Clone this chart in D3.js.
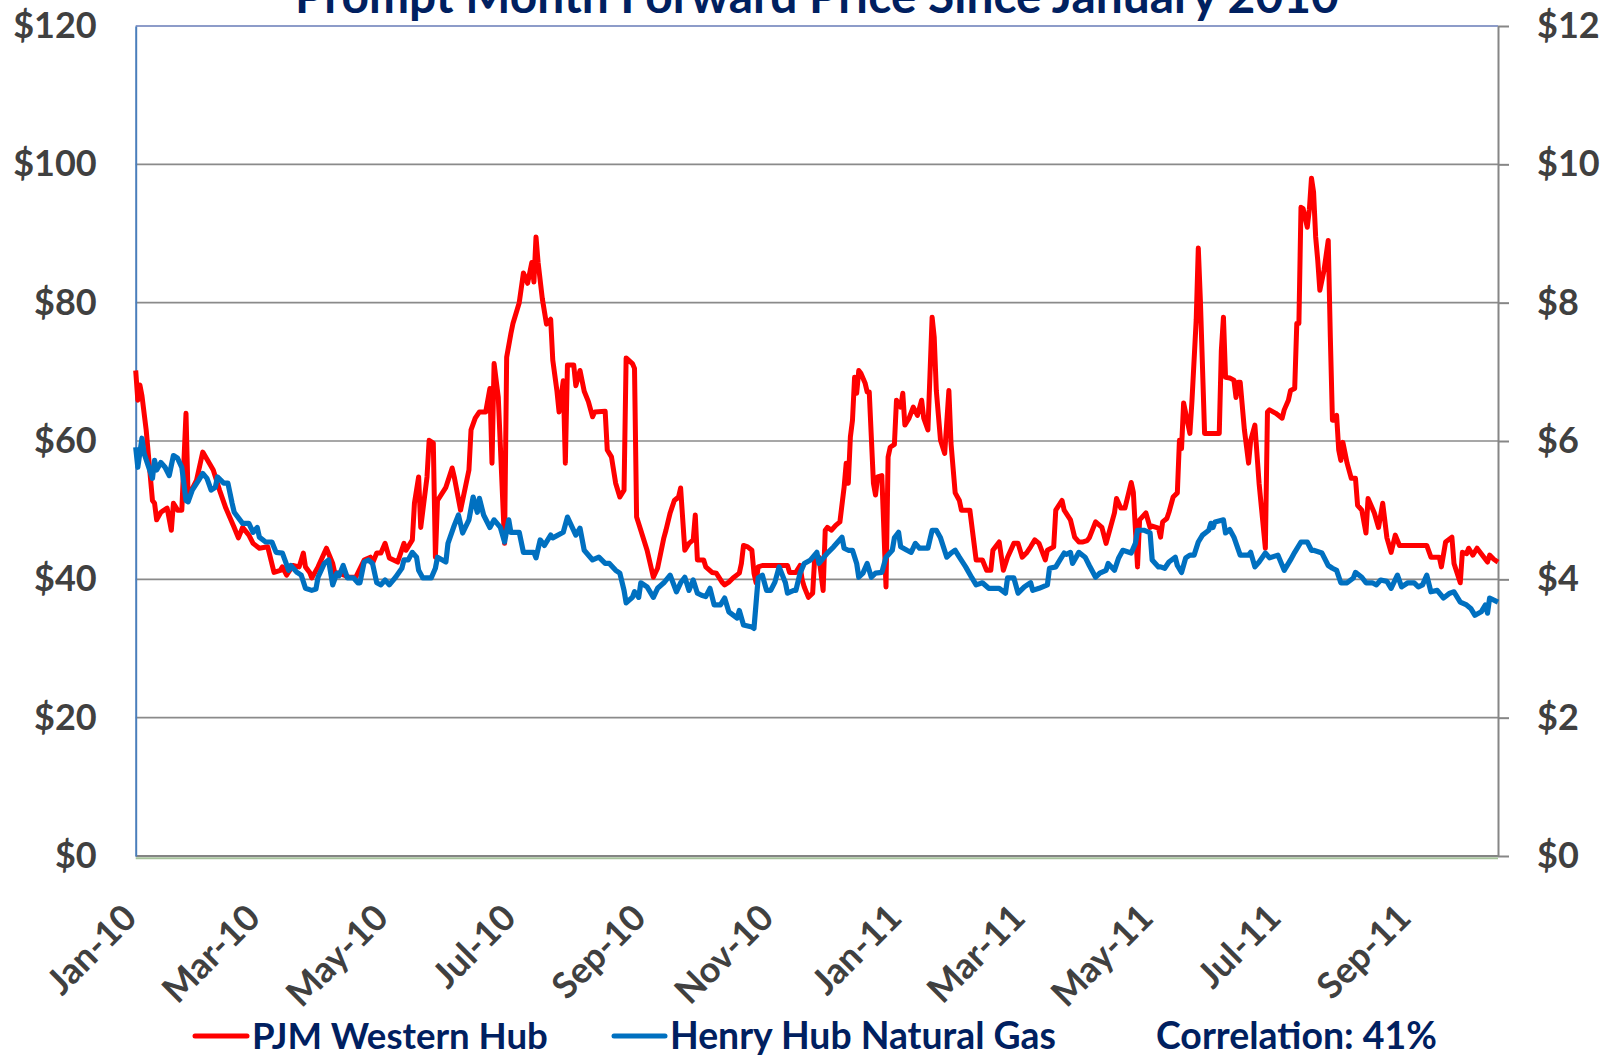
<!DOCTYPE html>
<html>
<head>
<meta charset="utf-8">
<script src="https://cdn.jsdelivr.net/npm/d3@7"></script>
<style>
  body { margin: 0; background: #fff; }
  svg text { font-family: Lato, "Open Sans", sans-serif; font-weight: bold; }
</style>
</head>
<body>
<svg></svg>
<script>
// PJM Western Hub prompt month ($/MWh), left axis
let pjmDates = ["2010-01-01","2010-01-02","2010-01-03","2010-01-04","2010-01-06","2010-01-09","2010-01-10","2010-01-11","2010-01-13","2010-01-16",
  "2010-01-18","2010-01-19","2010-01-21","2010-01-23","2010-01-25","2010-01-26","2010-01-30","2010-02-02","2010-02-07","2010-02-10",
  "2010-02-13","2010-02-17","2010-02-19","2010-02-21","2010-02-24","2010-02-26","2010-03-01","2010-03-05","2010-03-08","2010-03-11",
  "2010-03-12","2010-03-14","2010-03-17","2010-03-20","2010-03-22","2010-03-23","2010-03-25","2010-03-26","2010-03-29","2010-04-02",
  "2010-04-05","2010-04-06","2010-04-08","2010-04-13","2010-04-16","2010-04-20","2010-04-23","2010-04-24","2010-04-26","2010-04-28",
  "2010-04-30","2010-05-02","2010-05-06","2010-05-09","2010-05-10","2010-05-13","2010-05-14","2010-05-16","2010-05-17","2010-05-20",
  "2010-05-21","2010-05-23","2010-05-24","2010-05-25","2010-05-29","2010-06-01","2010-06-02","2010-06-05","2010-06-09","2010-06-10",
  "2010-06-12","2010-06-14","2010-06-17","2010-06-19","2010-06-20","2010-06-21","2010-06-23","2010-06-26","2010-06-27","2010-06-29",
  "2010-06-30","2010-07-03","2010-07-05","2010-07-07","2010-07-09","2010-07-10","2010-07-11","2010-07-12","2010-07-14","2010-07-16",
  "2010-07-18","2010-07-19","2010-07-21","2010-07-22","2010-07-24","2010-07-25","2010-07-26","2010-07-29","2010-07-30","2010-08-01",
  "2010-08-03","2010-08-05","2010-08-07","2010-08-08","2010-08-13","2010-08-14","2010-08-16","2010-08-18","2010-08-20","2010-08-22",
  "2010-08-23","2010-08-26","2010-08-27","2010-08-28","2010-08-30","2010-09-02","2010-09-05","2010-09-07","2010-09-10","2010-09-11",
  "2010-09-13","2010-09-15","2010-09-17","2010-09-18","2010-09-20","2010-09-22","2010-09-24","2010-09-25","2010-09-26","2010-09-29",
  "2010-09-30","2010-10-03","2010-10-05","2010-10-08","2010-10-09","2010-10-11","2010-10-13","2010-10-16","2010-10-17","2010-10-18",
  "2010-10-20","2010-10-22","2010-10-23","2010-10-24","2010-10-25","2010-10-27","2010-11-01","2010-11-05","2010-11-08","2010-11-09",
  "2010-11-12","2010-11-14","2010-11-15","2010-11-16","2010-11-18","2010-11-20","2010-11-21","2010-11-23","2010-11-25","2010-11-26",
  "2010-11-27","2010-11-29","2010-12-01","2010-12-03","2010-12-05","2010-12-06","2010-12-07","2010-12-08","2010-12-09","2010-12-10",
  "2010-12-11","2010-12-12","2010-12-13","2010-12-15","2010-12-16","2010-12-17","2010-12-19","2010-12-20","2010-12-21","2010-12-23",
  "2010-12-25","2010-12-26","2010-12-27","2010-12-29","2010-12-30","2011-01-01","2011-01-02","2011-01-03","2011-01-05","2011-01-07",
  "2011-01-09","2011-01-11","2011-01-12","2011-01-14","2011-01-16","2011-01-17","2011-01-18","2011-01-20","2011-01-22","2011-01-24",
  "2011-01-25","2011-01-27","2011-01-29","2011-01-30","2011-02-03","2011-02-05","2011-02-06","2011-02-09","2011-02-11","2011-02-13",
  "2011-02-14","2011-02-17","2011-02-19","2011-02-21","2011-02-24","2011-02-26","2011-02-28","2011-03-02","2011-03-04","2011-03-06",
  "2011-03-08","2011-03-11","2011-03-12","2011-03-15","2011-03-16","2011-03-19","2011-03-20","2011-03-23","2011-03-25","2011-03-27",
  "2011-03-29","2011-03-31","2011-04-01","2011-04-04","2011-04-07","2011-04-09","2011-04-13","2011-04-14","2011-04-16","2011-04-18",
  "2011-04-21","2011-04-22","2011-04-24","2011-04-25","2011-04-28","2011-04-30","2011-05-01","2011-05-04","2011-05-05","2011-05-06",
  "2011-05-08","2011-05-09","2011-05-11","2011-05-13","2011-05-14","2011-05-15","2011-05-16","2011-05-17","2011-05-19","2011-05-20",
  "2011-05-22","2011-05-23","2011-05-24","2011-05-25","2011-05-26","2011-05-29","2011-06-02","2011-06-03","2011-06-04","2011-06-05",
  "2011-06-07","2011-06-09","2011-06-10","2011-06-11","2011-06-12","2011-06-14","2011-06-16","2011-06-17","2011-06-19","2011-06-21",
  "2011-06-24","2011-06-25","2011-06-26","2011-06-29","2011-07-02","2011-07-03","2011-07-05","2011-07-06","2011-07-08","2011-07-09",
  "2011-07-10","2011-07-11","2011-07-12","2011-07-14","2011-07-15","2011-07-16","2011-07-17","2011-07-18","2011-07-19","2011-07-20",
  "2011-07-22","2011-07-24","2011-07-25","2011-07-26","2011-07-27","2011-07-28","2011-07-29","2011-07-30","2011-07-31","2011-08-02",
  "2011-08-04","2011-08-06","2011-08-07","2011-08-09","2011-08-11","2011-08-12","2011-08-15","2011-08-17","2011-08-19","2011-08-21",
  "2011-08-23","2011-08-25","2011-08-27","2011-09-05","2011-09-09","2011-09-11","2011-09-15","2011-09-16","2011-09-18","2011-09-21",
  "2011-09-22","2011-09-25","2011-09-26","2011-09-28","2011-09-29","2011-10-01","2011-10-03","2011-10-05","2011-10-08","2011-10-09",
  "2011-10-11","2011-10-13"];
let pjmPrices = [70.2,65.9,68.1,66.5,61.6,51.4,51.0,48.6,49.7,50.3,
  47.1,51.0,50.0,50.0,64.0,51.9,54.3,58.4,55.8,52.9,
  50.3,47.5,46.0,47.5,46.4,45.2,44.5,44.7,41.0,41.3,
  41.8,40.6,42.0,41.8,43.8,41.8,41.0,40.2,41.8,44.5,
  42.3,40.9,40.9,40.3,40.3,42.8,43.2,42.3,43.8,43.8,
  45.2,43.1,42.5,45.2,44.2,45.7,51.0,54.8,47.5,54.8,
  60.1,59.7,43.2,51.4,53.3,56.1,54.8,50.0,55.8,61.6,
  63.3,64.2,64.2,67.6,56.8,71.2,66.3,45.2,72.1,75.5,
  77.0,80.0,84.3,82.8,85.8,83.0,89.5,85.8,80.6,76.9,
  77.6,71.7,67.2,64.2,68.7,56.8,71.0,71.0,68.0,70.2,
  67.2,65.7,63.5,64.2,64.3,58.7,57.7,53.9,51.9,52.9,
  72.0,71.2,70.5,49.0,47.1,44.2,40.3,41.6,46.0,47.1,
  49.6,51.4,51.9,53.2,44.2,45.2,45.7,49.3,42.8,42.8,
  41.8,41.0,40.9,39.5,39.2,39.6,40.2,40.9,42.3,44.9,
  44.7,44.2,40.9,39.5,41.8,42.0,42.0,42.0,42.0,41.0,
  41.0,42.0,39.9,38.9,37.4,38.0,43.2,43.2,38.4,47.1,
  47.5,47.1,47.8,48.3,53.3,56.8,53.9,60.6,63.0,69.2,
  66.9,70.2,69.8,68.4,67.1,67.1,53.9,52.2,54.8,55.0,
  38.9,57.7,59.1,59.5,65.9,64.9,66.9,62.3,63.3,64.9,
  63.7,65.9,63.3,61.6,77.9,75.0,67.3,60.1,58.2,67.3,
  59.7,52.5,51.4,50.0,50.0,45.2,42.8,42.8,41.3,41.3,
  44.2,45.4,41.3,43.2,45.2,45.2,43.2,43.8,44.7,45.7,
  45.2,42.8,44.2,44.7,50.0,51.4,50.0,48.6,46.1,45.4,
  45.4,45.6,46.0,48.3,47.5,45.2,49.6,51.7,50.3,50.3,
  54.0,52.6,41.8,48.6,49.6,47.5,47.7,47.4,46.1,48.3,
  48.8,49.7,51.9,52.5,60.1,58.9,65.5,64.0,61.1,65.9,
  77.5,87.9,80.3,70.7,61.1,61.1,61.1,73.1,77.9,69.2,
  69.1,68.8,66.3,68.5,68.5,61.6,56.8,60.1,62.3,53.9,
  44.5,64.2,64.5,64.0,63.3,64.5,65.9,67.3,67.6,77.0,
  77.0,93.8,93.6,90.9,93.5,98.0,96.0,89.5,86.1,81.8,
  84.7,89.0,75.0,63.0,63.0,63.7,58.7,57.2,59.8,56.8,
  54.6,54.6,50.7,50.0,46.7,51.7,49.6,47.5,51.0,46.0,
  43.9,46.4,44.9,44.9,44.9,43.2,43.2,41.8,45.4,46.1,
  42.3,39.5,43.9,43.7,44.5,43.5,44.5,43.7,42.5,43.5,
  42.9,42.5];

// Henry Hub natural gas prompt month ($/MMBtu), right axis
let hhDates = ["2010-01-01","2010-01-02","2010-01-04","2010-01-05","2010-01-09","2010-01-10","2010-01-11","2010-01-13","2010-01-15","2010-01-17",
  "2010-01-19","2010-01-21","2010-01-23","2010-01-25","2010-01-26","2010-01-28","2010-01-31","2010-02-02","2010-02-04","2010-02-06",
  "2010-02-08","2010-02-09","2010-02-12","2010-02-14","2010-02-16","2010-02-17","2010-02-21","2010-02-24","2010-02-26","2010-02-28",
  "2010-03-01","2010-03-04","2010-03-07","2010-03-09","2010-03-12","2010-03-15","2010-03-16","2010-03-19","2010-03-21","2010-03-23",
  "2010-03-26","2010-03-28","2010-03-29","2010-04-01","2010-04-03","2010-04-05","2010-04-07","2010-04-08","2010-04-10","2010-04-12",
  "2010-04-15","2010-04-17","2010-04-18","2010-04-20","2010-04-22","2010-04-24","2010-04-26","2010-04-28","2010-04-30","2010-05-02",
  "2010-05-05","2010-05-08","2010-05-09","2010-05-11","2010-05-13","2010-05-15","2010-05-16","2010-05-18","2010-05-22","2010-05-24",
  "2010-05-25","2010-05-29","2010-05-30","2010-06-02","2010-06-04","2010-06-06","2010-06-09","2010-06-11","2010-06-13","2010-06-14",
  "2010-06-16","2010-06-19","2010-06-21","2010-06-24","2010-06-26","2010-06-28","2010-06-29","2010-07-03","2010-07-05","2010-07-10",
  "2010-07-11","2010-07-13","2010-07-15","2010-07-18","2010-07-19","2010-07-24","2010-07-26","2010-07-30","2010-08-01","2010-08-03",
  "2010-08-07","2010-08-10","2010-08-13","2010-08-15","2010-08-18","2010-08-20","2010-08-22","2010-08-23","2010-08-26","2010-08-27",
  "2010-08-29","2010-08-30","2010-09-02","2010-09-05","2010-09-07","2010-09-10","2010-09-13","2010-09-16","2010-09-18","2010-09-20",
  "2010-09-22","2010-09-24","2010-09-26","2010-09-28","2010-09-30","2010-10-02","2010-10-04","2010-10-07","2010-10-09","2010-10-11",
  "2010-10-15","2010-10-16","2010-10-18","2010-10-22","2010-10-23","2010-10-25","2010-10-27","2010-10-29","2010-10-31","2010-11-02",
  "2010-11-04","2010-11-07","2010-11-08","2010-11-11","2010-11-12","2010-11-14","2010-11-16","2010-11-19","2010-11-22","2010-11-23",
  "2010-11-27","2010-11-30","2010-12-02","2010-12-04","2010-12-05","2010-12-07","2010-12-09","2010-12-11","2010-12-12","2010-12-14",
  "2010-12-16","2010-12-18","2010-12-20","2010-12-23","2010-12-25","2010-12-28","2010-12-29","2010-12-31","2011-01-01","2011-01-04",
  "2011-01-06","2011-01-08","2011-01-10","2011-01-13","2011-01-14","2011-01-16","2011-01-18","2011-01-20","2011-01-23","2011-01-25",
  "2011-01-27","2011-01-29","2011-02-01","2011-02-04","2011-02-06","2011-02-09","2011-02-12","2011-02-17","2011-02-20","2011-02-21",
  "2011-02-24","2011-02-26","2011-03-01","2011-03-04","2011-03-05","2011-03-08","2011-03-12","2011-03-13","2011-03-16","2011-03-18",
  "2011-03-20","2011-03-21","2011-03-23","2011-03-24","2011-03-27","2011-03-30","2011-04-01","2011-04-04","2011-04-06","2011-04-09",
  "2011-04-10","2011-04-13","2011-04-15","2011-04-17","2011-04-21","2011-04-23","2011-04-24","2011-04-27","2011-04-30","2011-05-01",
  "2011-05-04","2011-05-05","2011-05-07","2011-05-09","2011-05-12","2011-05-13","2011-05-15","2011-05-17","2011-05-19","2011-05-21",
  "2011-05-23","2011-05-25","2011-05-28","2011-05-29","2011-05-30","2011-05-31","2011-06-04","2011-06-05","2011-06-07","2011-06-09",
  "2011-06-12","2011-06-14","2011-06-16","2011-06-17","2011-06-19","2011-06-21","2011-06-24","2011-06-26","2011-06-30","2011-07-03",
  "2011-07-06","2011-07-08","2011-07-11","2011-07-14","2011-07-16","2011-07-17","2011-07-21","2011-07-24","2011-07-26","2011-07-28",
  "2011-07-30","2011-08-02","2011-08-05","2011-08-06","2011-08-09","2011-08-11","2011-08-14","2011-08-16","2011-08-18","2011-08-21",
  "2011-08-23","2011-08-26","2011-08-28","2011-08-31","2011-09-03","2011-09-05","2011-09-07","2011-09-09","2011-09-11","2011-09-14",
  "2011-09-17","2011-09-20","2011-09-22","2011-09-25","2011-09-28","2011-09-30","2011-10-02","2011-10-05","2011-10-07","2011-10-08",
  "2011-10-09","2011-10-13"];
let hhPrices = [5.91,5.62,6.04,5.82,5.46,5.72,5.58,5.69,5.62,5.50,
  5.79,5.75,5.62,5.14,5.12,5.29,5.43,5.53,5.46,5.29,
  5.33,5.48,5.39,5.39,5.10,4.97,4.81,4.81,4.68,4.75,
  4.61,4.54,4.54,4.39,4.38,4.13,4.20,4.10,4.06,3.87,
  3.84,3.86,4.03,4.23,4.28,3.92,4.09,4.05,4.20,4.02,
  4.02,3.95,3.95,4.25,4.28,4.23,3.95,3.92,3.99,3.92,
  4.03,4.16,4.28,4.28,4.39,4.32,4.13,4.02,4.02,4.16,
  4.32,4.25,4.52,4.78,4.93,4.67,4.86,5.19,4.97,5.17,
  4.93,4.75,4.86,4.75,4.54,4.86,4.68,4.68,4.39,4.39,
  4.31,4.57,4.49,4.64,4.60,4.68,4.90,4.64,4.74,4.42,
  4.28,4.32,4.23,4.23,4.13,4.09,3.84,3.66,3.74,3.82,
  3.74,3.95,3.89,3.74,3.87,3.95,4.06,3.82,3.95,4.03,
  3.84,3.99,3.80,3.77,3.75,3.87,3.63,3.63,3.73,3.53,
  3.44,3.55,3.34,3.31,3.29,4.02,4.06,3.84,3.84,3.96,
  4.18,3.95,3.80,3.84,3.84,4.09,4.23,4.28,4.39,4.23,
  4.38,4.47,4.54,4.61,4.45,4.42,4.42,4.23,4.03,4.09,
  4.23,4.03,4.09,4.10,4.32,4.42,4.60,4.68,4.47,4.42,
  4.39,4.52,4.45,4.45,4.45,4.71,4.71,4.60,4.32,4.38,
  4.42,4.32,4.18,4.02,3.92,3.95,3.87,3.87,3.80,4.02,
  4.02,3.80,3.89,3.95,3.84,3.87,3.92,4.16,4.18,4.28,
  4.38,4.36,4.39,4.23,4.39,4.32,4.20,4.03,4.09,4.13,
  4.23,4.13,4.31,4.42,4.38,4.52,4.71,4.71,4.67,4.28,
  4.18,4.18,4.16,4.25,4.32,4.20,4.10,4.31,4.35,4.35,
  4.54,4.64,4.71,4.81,4.75,4.83,4.86,4.67,4.72,4.61,
  4.35,4.35,4.35,4.39,4.18,4.25,4.38,4.31,4.35,4.13,
  4.28,4.39,4.54,4.54,4.42,4.42,4.38,4.20,4.16,4.13,
  3.95,3.95,4.02,4.10,4.03,3.95,3.95,3.92,3.99,3.97,
  3.87,4.06,3.89,3.95,3.95,3.89,3.92,4.06,3.82,3.84,
  3.73,3.80,3.82,3.67,3.63,3.58,3.48,3.53,3.63,3.51,
  3.73,3.67];

let leftTicks = [0, 20, 40, 60, 80, 100, 120];
let rightTicks = [0, 2, 4, 6, 8, 10, 12];
let titleText = "Prompt Month Forward Price Since January 2010";
let seriesNames = ["PJM Western Hub", "Henry Hub Natural Gas"];
let correlationText = "Correlation: 41%";

let width = 1612, height = 1057;
let colours = ["#ff0000", "#0070c0"];
let plot = {left: 135.7, right: 1498, top: 26, bottom: 856};

let svg = d3.select("svg")
  .attr("width", width)
  .attr("height", height)
  .style("background-color", "#fff");

let parse = d3.timeParse("%Y-%m-%d");
let pjm = pjmDates.map((d, i) => ({date: parse(d), value: pjmPrices[i]}));
let hh = hhDates.map((d, i) => ({date: parse(d), value: hhPrices[i]}));

let x = d3.scaleTime()
  .domain([pjm[0].date, pjm[pjm.length - 1].date])
  .range([plot.left, plot.right]);
let yLeft = d3.scaleLinear().domain([0, 120]).range([plot.bottom, plot.top]);
let yRight = d3.scaleLinear().domain([0, 12]).range([plot.bottom, plot.top]);

// gridlines
svg.append("g")
  .selectAll("line")
  .data(leftTicks.filter(d => d > 0 && d < 120))
  .enter().append("line")
    .attr("x1", plot.left)
    .attr("x2", plot.right)
    .attr("y1", d => yLeft(d))
    .attr("y2", d => yLeft(d))
    .style("stroke", "#8a8a8a")
    .style("stroke-width", 1.6);

// plot frame: top edge, x axis (grey + pale green)
svg.append("line")
  .attr("x1", plot.left).attr("x2", plot.right)
  .attr("y1", plot.top).attr("y2", plot.top)
  .style("stroke", "#8d9cc9").style("stroke-width", 2);
svg.append("line")
  .attr("x1", plot.left).attr("x2", plot.right)
  .attr("y1", yLeft(0) + 2.2).attr("y2", yLeft(0) + 2.2)
  .style("stroke", "#a6c29b").style("stroke-width", 2);
svg.append("line")
  .attr("x1", plot.left).attr("x2", plot.right)
  .attr("y1", yLeft(0)).attr("y2", yLeft(0))
  .style("stroke", "#848484").style("stroke-width", 2);

// left axis
let axisL = svg.append("g")
  .attr("transform", "translate(" + plot.left + ",0)")
  .call(d3.axisLeft(yLeft).tickValues(leftTicks).tickSize(0).tickSizeOuter(0)
    .tickPadding(39).tickFormat(d => "$" + d));
axisL.select(".domain").style("stroke", "#4a7ebb").style("stroke-width", 2);

// right axis
let axisR = svg.append("g")
  .attr("transform", "translate(" + plot.right + ",0)")
  .call(d3.axisRight(yRight).tickValues(rightTicks).tickSize(11).tickSizeOuter(0)
    .tickPadding(28).tickFormat(d => "$" + d));
axisR.select(".domain").style("stroke", "#868686").style("stroke-width", 2);
axisR.selectAll(".tick line").style("stroke", "#868686").style("stroke-width", 2);

svg.selectAll(".tick text")
  .attr("font-size", 36)
  .style("fill", "#404040");

// x labels, every second month
let fmt = d3.timeFormat("%b-%y");
svg.append("g")
  .selectAll("text")
  .data(d3.timeMonth.every(2).range(x.domain()[0], x.domain()[1]))
  .enter().append("text")
    .attr("transform", d => "translate(" + (x(d) + 3) + "," + (plot.bottom + 64) + ") rotate(-45)")
    .attr("text-anchor", "end")
    .attr("font-size", 36)
    .style("fill", "#404040")
    .text(d => fmt(d));

// series
let lineL = d3.line().x(d => x(d.date)).y(d => yLeft(d.value));
let lineR = d3.line().x(d => x(d.date)).y(d => yRight(d.value));

svg.append("path")
  .datum(pjm)
  .attr("d", lineL)
  .style("fill", "none")
  .style("stroke", colours[0])
  .style("stroke-width", 5)
  .style("stroke-linejoin", "round");

svg.append("path")
  .datum(hh)
  .attr("d", lineR)
  .style("fill", "none")
  .style("stroke", colours[1])
  .style("stroke-width", 5.2)
  .style("stroke-linejoin", "round");

function fitWidth(sel, w) {
  let len = sel.node().getComputedTextLength();
  let fs = parseFloat(sel.attr("font-size"));
  sel.attr("font-size", fs * w / len);
}

// title (cut by the top edge, as in the source)
let title = svg.append("text")
  .attr("x", (plot.left + plot.right) / 2)
  .attr("y", 13)
  .attr("text-anchor", "middle")
  .attr("font-size", 44)
  .style("fill", "#002060")
  .text(titleText);
fitWidth(title, 1044);

// legend
let legendY = 1036;
let legendItems = [
  {x1: 195, x2: 247, tx: 252, w: 296, label: seriesNames[0], colour: colours[0]},
  {x1: 614, x2: 665, tx: 670, w: 386, label: seriesNames[1], colour: colours[1]}
];
legendItems.forEach(d => {
  svg.append("line")
    .attr("x1", d.x1).attr("x2", d.x2)
    .attr("y1", legendY).attr("y2", legendY)
    .style("stroke", d.colour)
    .style("stroke-width", 5)
    .style("stroke-linecap", "round");
  let t = svg.append("text")
    .attr("x", d.tx)
    .attr("y", legendY + 13)
    .attr("font-size", 36)
    .style("fill", "#002060")
    .text(d.label);
  fitWidth(t, d.w);
});
let corr = svg.append("text")
  .attr("x", 1156)
  .attr("y", legendY + 13)
  .attr("font-size", 36)
  .style("fill", "#002060")
  .text(correlationText);
fitWidth(corr, 281);
</script>
</body>
</html>
